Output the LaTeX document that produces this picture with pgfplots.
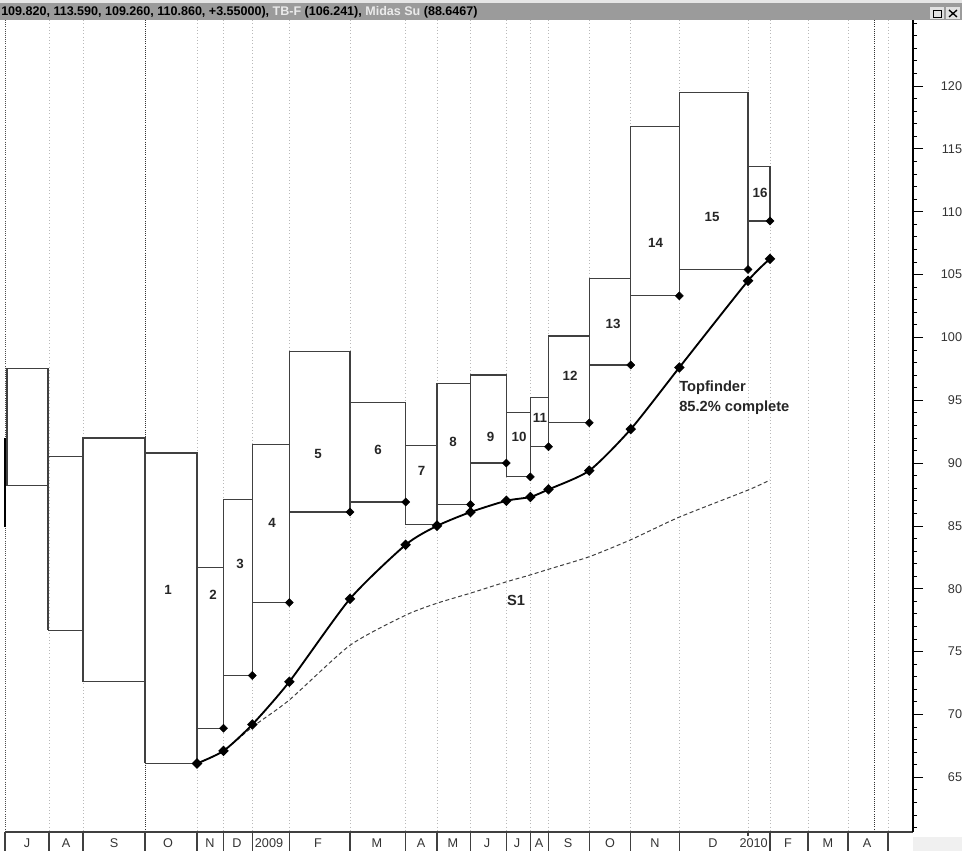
\documentclass[border=0pt]{standalone}
\usepackage{fontspec}
\setmainfont{Liberation Sans}
\usepackage{pgfplots}
\pgfplotsset{compat=1.18}
\definecolor{hdr}{RGB}{155,155,155}
\newcommand{\ebox}[4]{\addplot[draw=black!75, line width=0.9pt] coordinates {(#1,#3) (#2,#3) (#2,#4) (#1,#4) (#1,#3)};}
\begin{document}
\begin{tikzpicture}
% ---------- background in pixel units ----------
\begin{scope}[x=0.75pt, y=-0.75pt, yshift=638.25pt]
  \fill[white] (0,0) rectangle (962,851);
  \fill[hdr] (0,0) rectangle (962,20);
  \fill[white!75!hdr] (0,0) rectangle (962,3);
  \node[anchor=west, inner sep=0, font=\fontsize{9.4}{11}\selectfont\bfseries] at (1,12)
    {109.820, 113.590, 109.260, 110.860, +3.55000), \textcolor{white!80!hdr}{TB-F} (106.241), \textcolor{white!80!hdr}{Midas Su} (88.6467)};
  % window buttons
  \fill[white!70!hdr] (930,7) rectangle (944,19);
  \fill[white!70!hdr] (946,7) rectangle (960,19);
  \draw[black, line width=0.7pt] (933,10) rectangle (941,17);
  \draw[black, line width=1.4pt] (933,10.5) -- (941,10.5);
  \draw[black, line width=1pt] (949,10) -- (957,17) (957,10) -- (949,17);
  % grid lines
  \foreach \gx in {49,83,197,223.5,252.3,289.3,350,405.7,437,470.5,506.3,530.3,548.5,589.3,630.8,679.3,748,770,808,848,888}
    \draw[gray!55, dotted, line width=0.5pt] (\gx,20) -- (\gx,832);
  \foreach \gx in {145,874}
    \draw[black!80, densely dotted, line width=0.6pt] (\gx,20) -- (\gx,832);
  \draw[black!70, densely dotted, line width=0.6pt] (5,20) -- (5,832);
  \draw[black, line width=1.4pt] (5,438) -- (5,527);
  % bottom strip
  \fill[gray!12] (913,837) rectangle (962,851);
  \draw[black!75, line width=0.8pt] (5,832) -- (913,832);
  \foreach \sx in {5,49,83,145,197,223.5,252.3,289.3,350,405.7,437,470.5,506.3,530.3,548.5,589.3,630.8,679.3,770,808,848,888}
    \draw[black!75, line width=0.8pt] (\sx,832) -- (\sx,851);
  \draw[black!75, line width=0.8pt] (748,832) -- (748,836);
  \foreach \lx/\lt in {27/J,66/A,114/S,168/O,210/N,237/D,269/2009,318/F,377/M,421/A,453/M,487/J,517/J,539/A,568/S,610/O,655/N,713/D,788/F,828/M,867/A}
    \node[font=\fontsize{9.5}{11}\selectfont, text=black!80, inner sep=0] at (\lx,843) {\lt};
  \node[font=\fontsize{9.5}{11}\selectfont, text=black!80, inner sep=0, anchor=east] at (768,843) {2010};
\end{scope}
% ---------- the chart ----------
\begin{axis}[
  at={(3.75pt,14.25pt)}, anchor=south west,
  scale only axis, width=681pt, height=609pt,
  xmin=5, xmax=913, ymin=60.648, ymax=125.246,
  axis x line=none, axis y line=right,
  y axis line style={-, black, line width=0.8pt},
  ytick={65,70,...,120}, minor ytick={61,...,125},
  tick align=outside, major tick length=7.5pt, minor tick length=3pt,
  ytick style={black, line width=0.6pt},
  /pgf/number format/assume math mode=true,
  yticklabel style={font=\fontsize{9.5}{10}\selectfont, text=black!80, anchor=east, inner sep=0pt, xshift=29.5pt},
  clip=false,
]
% boxes: x0, x1, low, high
\ebox{7}{48}{88.2}{97.5}
\ebox{48}{83}{76.7}{90.5}
\ebox{83}{145}{72.6}{92.0}
\ebox{145}{197}{66.1}{90.8}
\ebox{197}{223.5}{68.9}{81.7}
\ebox{223.5}{252.3}{73.1}{87.1}
\ebox{252.3}{289.3}{78.9}{91.5}
\ebox{289.3}{350}{86.1}{98.9}
\ebox{350}{405.7}{86.9}{94.8}
\ebox{405.7}{437}{85.1}{91.4}
\ebox{437}{470.5}{86.7}{96.3}
\ebox{470.5}{506.3}{90.0}{97.0}
\ebox{506.3}{530.3}{88.9}{94.0}
\ebox{530.3}{548.5}{91.3}{95.2}
\ebox{548.5}{589.3}{93.2}{100.1}
\ebox{589.3}{630.8}{97.8}{104.7}
\ebox{630.8}{679.3}{103.3}{116.8}
\ebox{679.3}{748}{105.4}{119.5}
\ebox{748}{770}{109.26}{113.59}
% S1
\addplot[black!75, line width=0.75pt, dash pattern=on 3pt off 2pt, smooth, tension=0.4] coordinates {
(197,66.1) (223.5,67.1) (252.3,69.0) (289.3,71.15) (350,75.5) (405.7,77.9) (437,78.85) (470.5,79.65)
(506.3,80.55) (530.3,81.1) (548.5,81.55) (589.3,82.55) (630.8,83.9) (679.3,85.7) (748,87.85) (770,88.65)};
% Topfinder
\addplot[black, line width=1.4pt, smooth, tension=0.4, mark=square*, mark size=2.1pt, mark options={solid, rotate=45}] coordinates {
(197,66.1) (223.5,67.1) (252.3,69.2) (289.3,72.6) (350,79.2) (405.7,83.5) (437,85.0) (470.5,86.1)
(506.3,87.0) (530.3,87.3) (548.5,87.9) (589.3,89.4) (630.8,92.7) (679.3,97.6) (748,104.5) (770,106.24)};
% diamonds at the low of each numbered box
\addplot[only marks, mark=square*, mark size=2.1pt, mark options={rotate=45}, black] coordinates {
(197,66.1) (223.5,68.9) (252.3,73.1) (289.3,78.9) (350,86.1) (405.7,86.9) (437,85.1) (470.5,86.7)
(506.3,90.0) (530.3,88.9) (548.5,91.3) (589.3,93.2) (630.8,97.8) (679.3,103.3) (748,105.4) (770,109.26)};
\end{axis}
% ---------- labels in pixel units ----------
\begin{scope}[x=0.75pt, y=-0.75pt, yshift=638.25pt]
  \foreach \bx/\by/\bt in {168/590/1,213/595/2,240/564/3,272/523/4,318/454/5,378/450/6,421.5/471/7,453/442/8,490.5/437/9,519/437/10,540/418/11,570/376/12,613/324/13,655.5/243/14,712/217/15,760/193/16}
    \node[font=\fontsize{10}{12}\selectfont\bfseries, text=black!85, inner sep=0] at (\bx,\by) {\bt};
  \node[anchor=west, inner sep=0, font=\fontsize{11}{13}\selectfont\bfseries, text=black!85] at (679,388) {Topfinder};
  \node[anchor=west, inner sep=0, font=\fontsize{11}{13}\selectfont\bfseries, text=black!85] at (679,408) {85.2\% complete};
  \node[inner sep=0, font=\fontsize{11}{13}\selectfont\bfseries, text=black!85] at (516,600) {S1};
  \pgfresetboundingbox
  \path[use as bounding box] (0,0) rectangle (962,851);
\end{scope}
\end{tikzpicture}
\end{document}
